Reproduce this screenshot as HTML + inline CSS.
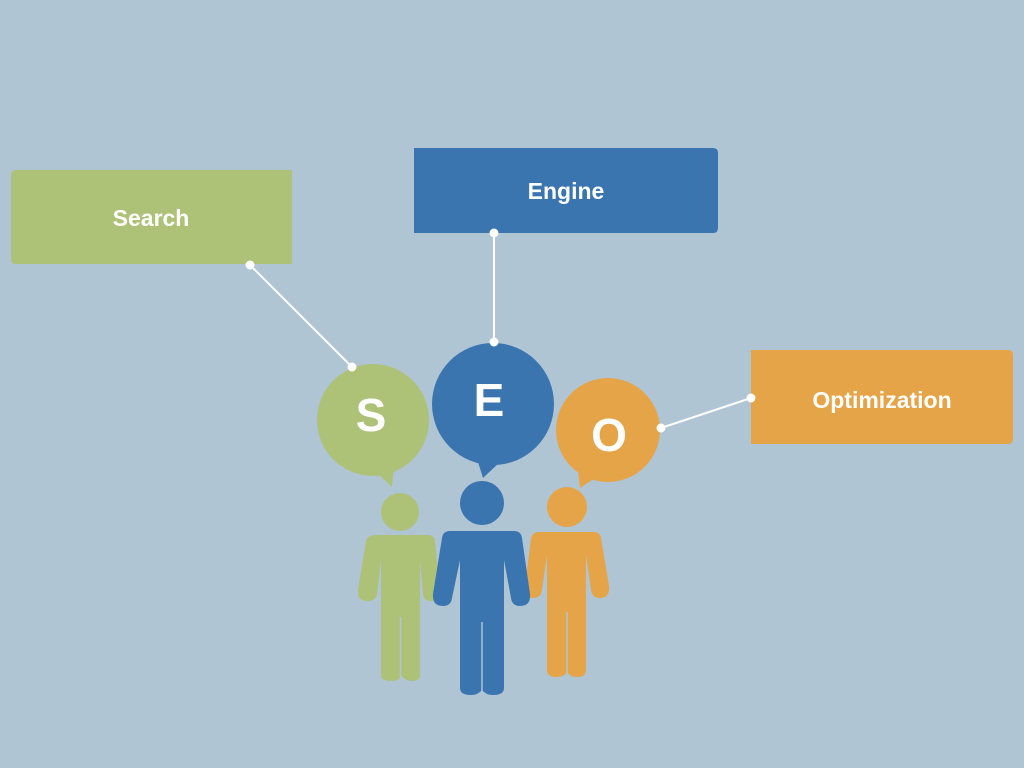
<!DOCTYPE html>
<html><head><meta charset="utf-8"><style>
html,body{margin:0;padding:0;width:1024px;height:768px;overflow:hidden;background:#afc5d4;}
svg{display:block}
text{font-family:"Liberation Sans",sans-serif;font-weight:bold;fill:#fff;}
</style></head><body>
<svg width="1024" height="768" viewBox="0 0 1024 768">
<rect width="1024" height="768" fill="#afc5d4"/>
<!-- boxes -->
<path d="M16 170 H292 V264 H16 Q11 264 11 259 V175 Q11 170 16 170Z" fill="#adc277"/>
<text x="151" y="226" font-size="23" text-anchor="middle">Search</text>
<path d="M414 148 H713 Q718 148 718 153 V228 Q718 233 713 233 H414Z" fill="#3b75b0"/>
<text x="566" y="199" font-size="23" text-anchor="middle">Engine</text>
<path d="M751 350 H1008 Q1013 350 1013 355 V439 Q1013 444 1008 444 H751Z" fill="#e5a447"/>
<text x="882" y="408" font-size="23" text-anchor="middle">Optimization</text>
<!-- bubbles -->
<circle cx="373" cy="420" r="56" fill="#adc277"/>
<path d="M374 470 L392 487 L394 466Z" fill="#adc277"/>
<circle cx="493" cy="404" r="61" fill="#3b75b0"/>
<path d="M478 462 L483 478 L500 462Z" fill="#3b75b0"/>
<circle cx="608" cy="430" r="52" fill="#e5a447"/>
<path d="M578 470 L580 488 L598 476Z" fill="#e5a447"/>
<text x="371" y="431" font-size="46" text-anchor="middle">S</text>
<text x="489" y="416" font-size="46" text-anchor="middle">E</text>
<text x="609" y="451" font-size="46" text-anchor="middle">O</text>
<!-- connectors -->
<g stroke="#fff" stroke-width="2" fill="#fff">
<line x1="250" y1="265" x2="352" y2="367"/><circle cx="250" cy="265" r="3.5"/><circle cx="352" cy="367" r="3.5"/>
<line x1="494" y1="233" x2="494" y2="342"/><circle cx="494" cy="233" r="3.5"/><circle cx="494" cy="342" r="3.5"/>
<line x1="751" y1="398" x2="661" y2="428"/><circle cx="751" cy="398" r="3.5"/><circle cx="661" cy="428" r="3.5"/>
</g>
<!-- green person -->
<g fill="#adc277">
<circle cx="400" cy="512" r="19"/>
<path d="M375 535 H428 Q434 535 435 541 L440 590 Q441 601 430 601 Q424 601 423 594 L420 560 V675 Q420 681 413 681 Q405 681 402 676 Q399 681 391 681 Q381 681 381 675 V560 L377 594 Q376 601 367 601 Q357 601 358 590 L366 541 Q368 535 375 535Z"/>
</g>
<line x1="400.5" y1="617" x2="400.5" y2="682" stroke="#afc5d4" stroke-width="1.5"/>
<!-- orange person -->
<g fill="#e5a447">
<circle cx="567" cy="507" r="20"/>
<path d="M538 532 H594 Q600 532 601 538 L609 586 Q610 598 600 598 Q592 598 591 590 L586 555 V670 Q586 677 577 677 Q570 677 567 672 Q564 677 556 677 Q547 677 547 670 V555 L542 590 Q541 598 533 598 Q524 598 525 586 L531 538 Q533 532 538 532Z"/>
</g>
<line x1="567" y1="612" x2="567" y2="678" stroke="#afc5d4" stroke-width="1.5"/>
<!-- blue person -->
<g fill="#3b75b0">
<circle cx="482" cy="503" r="22"/>
<path d="M450 531 H514 Q521 531 522 538 L530 594 Q531 606 520 606 Q512 606 511 598 L504 560 V688 Q504 695 493 695 Q486 695 482 690 Q478 695 471 695 Q460 695 460 688 V560 L452 598 Q451 606 443 606 Q432 606 433 594 L442 538 Q443 531 450 531Z"/>
</g>
<line x1="482" y1="622" x2="482" y2="696" stroke="#afc5d4" stroke-width="1.5"/>
</svg>
</body></html>
